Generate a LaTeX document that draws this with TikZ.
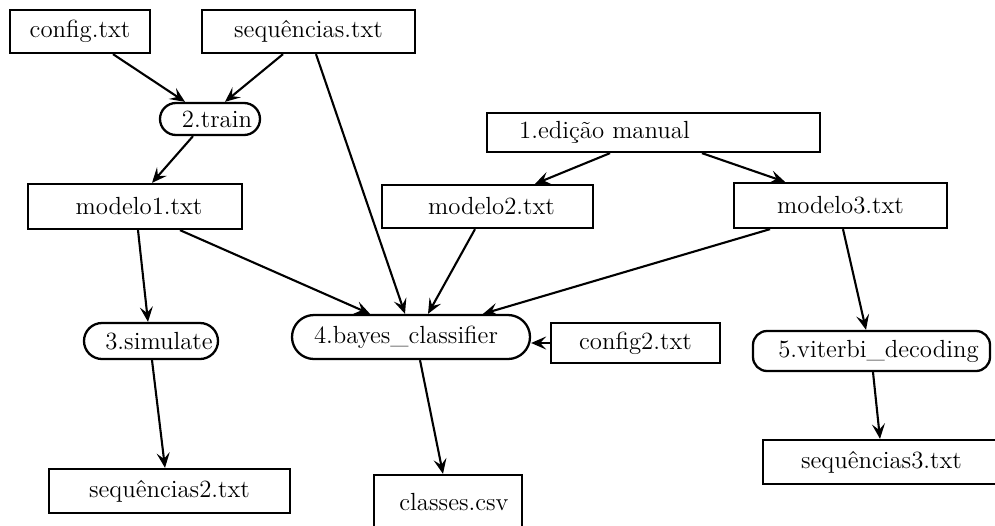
\documentclass[tikz,border=0pt]{standalone}
\usetikzlibrary{arrows.meta,shapes.misc,calc}
\begin{document}
\begin{tikzpicture}[x=0.5pt,y=-0.5pt,
  every node/.style={font=\fontsize{12.4}{14}\selectfont, inner sep=0pt, line width=1.15pt},
  file/.style={draw, rectangle},
  proc/.style={draw, rounded rectangle},
  procr/.style={draw, rectangle, rounded corners=7pt},
  flow/.style={line width=1.05pt, -{Stealth[length=7.5pt,width=6.5pt,inset=3pt]}}]
\useasboundingbox (0,0) rectangle (995,525);

% input files and processes
\node[file, minimum width=70pt, minimum height=21.5pt] (cfg) at (80,31.5) {config.txt};
\node[file, minimum width=106.5pt, minimum height=21.5pt] (seq) at (308.5,31.5) {sequências.txt};
\node[proc, minimum width=50pt, minimum height=16pt] (train) at (210,119) {\hspace*{7pt}2.train};
\node[file, minimum width=107pt, minimum height=22.5pt] (m1) at (135,206.5) {\hspace*{4pt}modelo1.txt};
\node[file, minimum width=166.5pt, minimum height=19.5pt] (ed) at (653.5,132.5) {1.edição manual\hspace*{49pt}};
\node[file, minimum width=105.5pt, minimum height=21.5pt] (m2) at (487.5,206.5) {\hspace*{4pt}modelo2.txt};
\node[file, minimum width=106.5pt, minimum height=22.5pt] (m3) at (840.5,205.5) {modelo3.txt};
\node[proc, minimum width=67pt, minimum height=18pt] (sim) at (151,341) {\hspace*{8pt}3.simulate};
\node[proc, minimum width=119pt, minimum height=22pt] (bay) at (411,337) {4.bayes\_classifier\hspace*{5pt}};
\node[file, minimum width=84.5pt, minimum height=20pt] (c2) at (635.5,343) {config2.txt};
\node[procr, minimum width=118.5pt, minimum height=20pt] (vit) at (871.5,351) {\hspace*{7pt}5.viterbi\_decoding};
\node[file, minimum width=120.5pt, minimum height=22pt] (s2) at (169.5,491) {sequências2.txt};
\node[file, minimum width=74pt, minimum height=27.5pt] (cls) at (448,502.5) {\raisebox{1pt}{\hspace*{6pt}classes.csv}};
\node[file, minimum width=118.5pt, minimum height=22pt] (s3) at (881.5,462) {sequências3.txt};

% data flow
\draw[flow] ($(cfg.south)+(33,0)$) -- ($(train.north)+(-25,0)$);
\draw[flow] ($(seq.south)+(-25.5,0)$) -- ($(train.north)+(15,0)$);
\draw[flow] ($(seq.south)+(7.5,0)$) -- ($(bay.north)+(-6,0)$);
\draw[flow] ($(train.south)+(-17,0)$) -- ($(m1.north)+(17,0)$);
\draw[flow] ($(ed.south)+(-43.5,0)$) -- ($(m2.north)+(47.5,0)$);
\draw[flow] ($(ed.south)+(48.5,0)$) -- ($(m3.north)+(-55.5,0)$);
\draw[flow] ($(m1.south)+(3,0)$) -- ($(sim.north)+(-3,0)$);
\draw[flow] ($(m1.south)+(45,0)$) -- ($(bay.north)+(-41,0)$);
\draw[flow] ($(m2.south)+(-12.5,0)$) -- ($(bay.north)+(17,0)$);
\draw[flow] ($(m3.south)+(-70.5,0)$) -- ($(bay.north)+(72,0)$);
\draw[flow] ($(m3.south)+(2.5,0)$) -- ($(vit.north)+(-5.5,0)$);
\draw[flow] (c2.west) -- (bay.east |- c2.west);
\draw[flow] ($(sim.south)+(1,0)$) -- ($(s2.north)+(-4.5,0)$);
\draw[flow] ($(bay.south)+(9,0)$) -- ($(cls.north)+(-5,0)$);
\draw[flow] ($(vit.south)+(1.5,0)$) -- ($(s3.north)+(-1.5,0)$);
\end{tikzpicture}
\end{document}
